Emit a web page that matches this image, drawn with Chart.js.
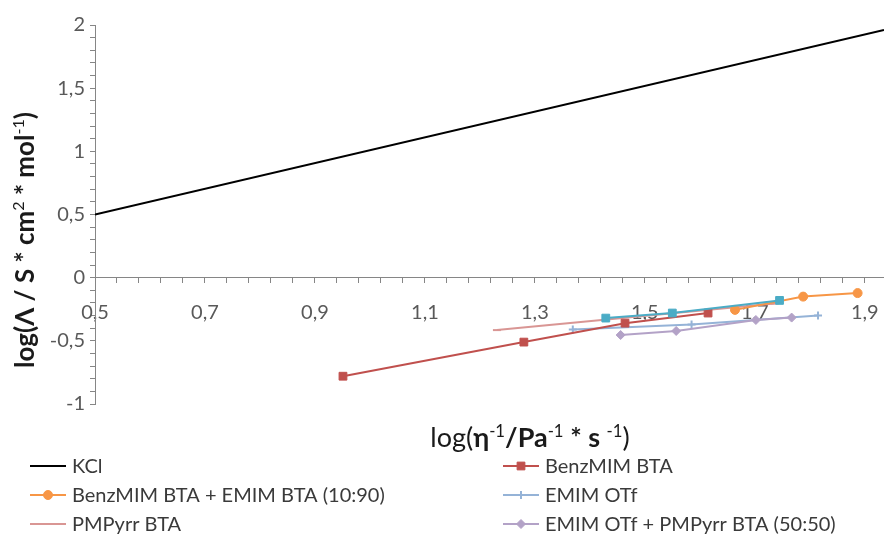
<!DOCTYPE html>
<html>
<head>
<meta charset="utf-8">
<script src="https://cdn.jsdelivr.net/npm/chart.js@4.4.1/dist/chart.umd.min.js"></script>
<style>
    html, body { margin: 0; padding: 0; background: #fff; }
    #wrap { width: 884px; height: 549px; position: relative; }
</style>
</head>
<body>
<div id="wrap"><canvas id="chart"></canvas></div>
<script>
// series names (legend shows the first six)
const seriesNames = [
    'KCl',
    'BenzMIM BTA',
    'BenzMIM BTA + EMIM BTA (10:90)',
    'EMIM OTf',
    'PMPyrr BTA',
    'EMIM OTf + PMPyrr BTA (50:50)',
    'EMIM BTA'
];

// values
const kclX = [0.5, 1.935];
const kclY = [0.5, 1.96];

const benzX = [0.951, 1.28, 1.464, 1.615];
const benzY = [-0.78, -0.51, -0.36, -0.28];

const benzMixX = [1.664, 1.788, 1.887];
const benzMixY = [-0.255, -0.15, -0.122];

const otfX = [1.369, 1.585, 1.815];
const otfY = [-0.41, -0.37, -0.30];

const pmpX = [1.231, 1.736];
const pmpY = [-0.415, -0.205];

const otfMixX = [1.456, 1.557, 1.702, 1.767];
const otfMixY = [-0.454, -0.422, -0.335, -0.316];

const emimX = [1.429, 1.55, 1.745];
const emimY = [-0.32, -0.28, -0.18];

// axis ticks
const xMajorTicks = [0.5, 0.7, 0.9, 1.1, 1.3, 1.5, 1.7, 1.9];
const yMajorTicks = [-1, -0.5, 0, 0.5, 1, 1.5, 2];

const fontName = 'Lato, "Open Sans", sans-serif';

const pts = (xs, ys) => xs.map((x, i) => ({ x: x, y: ys[i] }));
const fmt = (v) => String(Math.round(v * 100) / 100).replace('.', ',');
const isMajor = (v, list) => list.some(m => Math.abs(m - v) < 1e-6);

function series(i, xs, ys, color, style, radius, order) {
    return {
        label: seriesNames[i],
        data: pts(xs, ys),
        borderColor: color,
        backgroundColor: color,
        borderWidth: 2,
        pointStyle: style,
        pointRadius: radius,
        pointBorderWidth: style === 'cross' || style === 'line' ? 2 : 1,
        showLine: true,
        order: order
    };
}

// rich text: segments of {t, bold, sup}
function segFont(s, size) {
    return (s.bold ? 'bold ' : '') + (s.sup ? size * 0.62 : size) + 'px ' + fontName;
}

function drawRich(ctx, segs, x, y, size) {
    let w = 0;
    segs.forEach(s => { ctx.font = segFont(s, size); w += ctx.measureText(s.t).width; });
    let cx = x - w / 2;
    segs.forEach(s => {
        ctx.font = segFont(s, size);
        ctx.fillText(s.t, cx, s.sup ? y - size * 0.38 : y);
        cx += ctx.measureText(s.t).width;
    });
}

const xTitle = [
    { t: 'log(' }, { t: 'η', bold: true }, { t: '-1', sup: true },
    { t: '/Pa', bold: true }, { t: '-1', sup: true },
    { t: ' * s ', bold: true }, { t: '-1', sup: true }, { t: ')' }
];
const yTitle = [
    { t: 'log(Λ / S * cm', bold: true }, { t: '2', sup: true },
    { t: ' * mol', bold: true }, { t: '-1', sup: true }, { t: ')', bold: true }
];

const extrasPlugin = {
    id: 'extras',
    afterDraw(chart) {
        const ctx = chart.ctx;
        ctx.save();
        ctx.fillStyle = '#1a1a1a';
        ctx.textBaseline = 'alphabetic';
        drawRich(ctx, xTitle, 530, 447, 27);

        ctx.save();
        ctx.translate(34, 240);
        ctx.rotate(-Math.PI / 2);
        drawRich(ctx, yTitle, 0, 0, 26);
        ctx.restore();

        // legend, two columns
        ctx.font = '20px ' + fontName;
        ctx.textBaseline = 'middle';
        chart.data.datasets.slice(0, 6).forEach((ds, i) => {
            let col = i % 2, row = Math.floor(i / 2);
            let lx = col === 0 ? 30 : 503;
            let ly = 466 + row * 29;
            ctx.strokeStyle = ds.borderColor;
            ctx.lineWidth = 2;
            ctx.beginPath();
            ctx.moveTo(lx, ly);
            ctx.lineTo(lx + 36, ly);
            ctx.stroke();
            if (ds.pointRadius > 0) {
                ctx.fillStyle = ds.backgroundColor;
                ctx.lineWidth = ds.pointBorderWidth;
                Chart.helpers.drawPoint(ctx, { pointStyle: ds.pointStyle, radius: ds.pointRadius, rotation: 0, borderWidth: ds.pointBorderWidth }, lx + 18, ly);
            }
            ctx.fillStyle = '#3a3a3a';
            ctx.fillText(ds.label, lx + 42, ly + 1);
        });
        ctx.restore();
    }
};

new Chart(document.getElementById('chart'), {
    type: 'scatter',
    data: {
        datasets: [
            series(0, kclX, kclY, '#000000', 'circle', 0, 7),
            series(1, benzX, benzY, '#C0504D', 'rect', 5.5, 4),
            series(2, benzMixX, benzMixY, '#F79646', 'circle', 4.5, 3),
            series(3, otfX, otfY, '#95B3D7', 'cross', 4, 5),
            series(4, pmpX, pmpY, '#D99694', 'line', 4, 6),
            series(5, otfMixX, otfMixY, '#B3A2C7', 'rectRot', 4.5, 2),
            series(6, emimX, emimY, '#4BACC6', 'rect', 5.5, 1)
        ]
    },
    options: {
        responsive: true,
        maintainAspectRatio: false,
        animation: false,
        layout: { autoPadding: false, padding: { top: 25, right: 0, bottom: 145, left: 0 } },
        plugins: {
            legend: { display: false },
            tooltip: { enabled: false }
        },
        scales: {
            x: {
                type: 'linear',
                min: 0.5,
                max: 1.935,
                position: { y: 0 },
                afterBuildTicks: (scale) => {
                    let t = [];
                    for (let k = 0; 0.5 + k * 0.04 <= 1.935; k++) {
                        t.push({ value: Math.round((0.5 + k * 0.04) * 100) / 100 });
                    }
                    scale.ticks = t;
                },
                // plot runs right up to the edge like the original
                afterFit: (scale) => { scale.paddingLeft = 0; scale.paddingRight = 0; },
                ticks: {
                    autoSkip: false,
                    maxRotation: 0,
                    color: '#595959',
                    font: { family: fontName, size: 20 },
                    padding: 18,
                    callback: (v) => isMajor(v, xMajorTicks) ? fmt(v) : ''
                },
                grid: { drawOnChartArea: false, drawTicks: true, tickLength: 5, color: '#868686' },
                border: { color: '#868686', width: 1 }
            },
            y: {
                type: 'linear',
                min: -1,
                max: 2,
                position: 'left',
                afterBuildTicks: (scale) => {
                    let t = [];
                    for (let k = 0; k <= 30; k++) {
                        t.push({ value: Math.round((-1 + k * 0.1) * 10) / 10 });
                    }
                    scale.ticks = t;
                },
                afterFit: (scale) => { scale.width = 95; },
                ticks: {
                    autoSkip: false,
                    color: '#595959',
                    font: { family: fontName, size: 20 },
                    padding: 5,
                    callback: (v) => isMajor(v, yMajorTicks) ? fmt(v) : ''
                },
                grid: { drawOnChartArea: false, drawTicks: true, tickLength: 5, color: '#868686' },
                border: { color: '#868686', width: 1 }
            }
        }
    },
    plugins: [extrasPlugin]
});
</script>
</body>
</html>
